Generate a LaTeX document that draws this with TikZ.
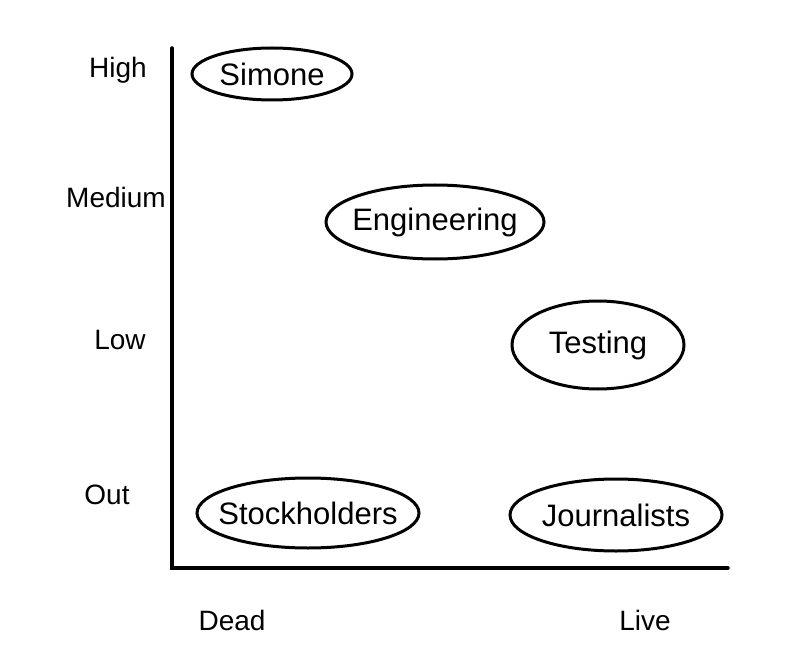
\documentclass[tikz,border=0pt]{standalone}
\usepackage{fontspec}
\setmainfont{Liberation Sans}
\usetikzlibrary{shapes.geometric}

\begin{document}
\begin{tikzpicture}[
  x=1pt, y=-1pt,
  blob/.style={ellipse, draw, line width=3pt, inner xsep=-14pt, inner ysep=0pt, font=\fontsize{31}{36}\selectfont},
  level/.style={font=\fontsize{28}{34}\selectfont},
  axis/.style={line width=3.5pt, line cap=round}
]
\useasboundingbox (0,0) rectangle (800,663);

\coordinate (top) at (172,48);
\coordinate (origin) at (172,568);
\coordinate (right) at (728,568);
\draw[axis] (top) -- (origin) -- (right);

\node[level] (high) at (118,70) {High};
\node[level] (medium) at (116,197) {Medium};
\node[level] (low) at (120,340) {Low};
\node[level] (out) at (107,495) {Out};
\node[level] (dead) at (232,620) {Dead};
\node[level] (live) at (645,620) {Live};

\node[blob, minimum width=160, minimum height=52] (simone) at (272,74) {Simone};
\node[blob, minimum width=218, minimum height=74] (eng) at (435,222) {Engineering};
\node[blob, minimum width=172, minimum height=88] (test) at (598,345) {Testing};
\node[blob, minimum width=222, minimum height=70] (stock) at (308,513) {Stockholders};
\node[blob, minimum width=212, minimum height=72] (journ) at (616,515) {Journalists};
\end{tikzpicture}
\end{document}
